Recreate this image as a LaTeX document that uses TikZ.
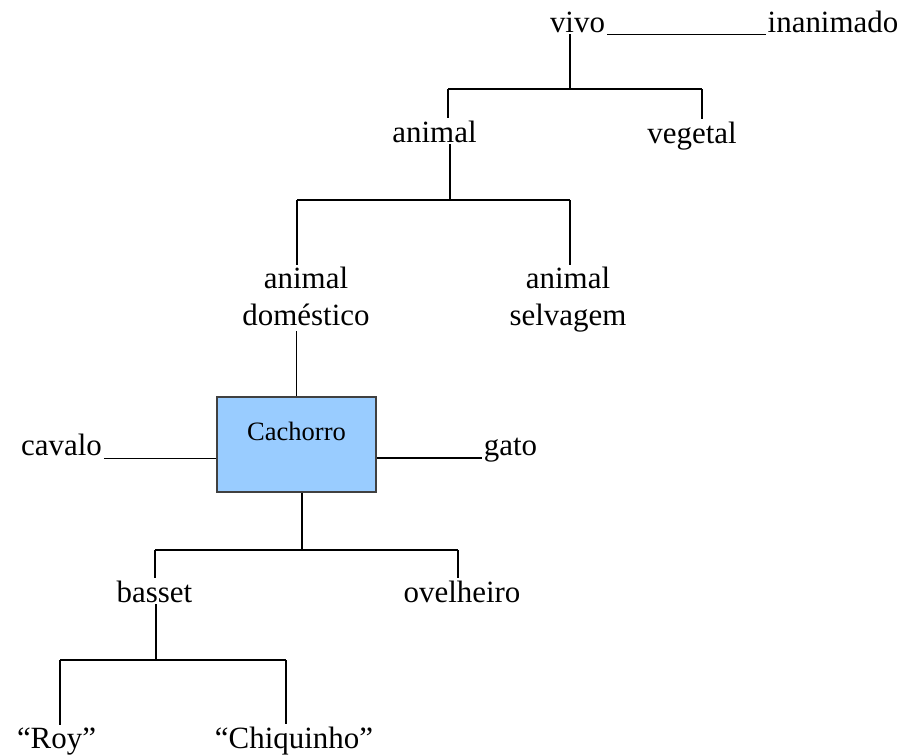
\documentclass[tikz,border=0pt]{standalone}
\usepackage{fontspec}
\setmainfont{Liberation Serif}
\definecolor{boxblue}{HTML}{99CCFF}
\tikzset{
  lbl/.style={inner sep=1pt, anchor=base, align=center,
    font=\fontsize{17.6pt}{21pt}\selectfont},
  dogbox/.style={draw=black!75, fill=boxblue, line width=0.7pt, inner sep=0pt,
    anchor=base, minimum width=3.18cm, text height=0.86cm, text depth=1.04cm,
    font=\fontsize{15.1pt}{18pt}\selectfont},
  liga/.style={line width=1pt}
}
\begin{document}
\begin{tikzpicture}[x=0.02cm, y=-0.02cm]
    \useasboundingbox (0,0) rectangle (909,755);

    \node[lbl] (vivo)    at (577.5,32) {vivo};
    \node[lbl] (inan)    at (833,32)   {inanimado};
    \node[lbl] (animal)  at (434.5,142) {animal};
    \node[lbl] (vegetal) at (692,143)  {vegetal};
    \node[lbl] (dom)     at (306,325)  {animal\\doméstico};
    \node[lbl] (selv)    at (568,325)  {animal\\selvagem};
    \node[dogbox] (dog)  at (296.5,440) {Cachorro};
    \node[lbl] (cavalo)  at (61.5,455) {cavalo};
    \node[lbl] (gato)    at (510.5,455) {gato};
    \node[lbl] (basset)  at (154.5,602) {basset};
    \node[lbl] (ovel)    at (462,602)  {ovelheiro};
    \node[lbl] (roy)     at (56.5,748) {“Roy”};
    \node[lbl] (chiq)    at (294,748)  {“Chiquinho”};

    % pontos das barras
    \coordinate (j1) at (570,89);  \coordinate (j1l) at (448,89);  \coordinate (j1r) at (702,89);
    \coordinate (j2) at (450,200); \coordinate (j2l) at (297,200); \coordinate (j2r) at (570,200);
    \coordinate (j4) at (302,550); \coordinate (j4l) at (155,550); \coordinate (j4r) at (458,550);
    \coordinate (j5) at (156,660); \coordinate (j5l) at (60,660);  \coordinate (j5r) at (286,660);

    \draw[liga] (vivo.south -| j1) -- (j1);
    \draw[liga] (j1l) -- (j1r);
    \draw[liga] (j1l) -- (j1l |- animal.north);
    \draw[liga] (j1r) -- (j1r |- vegetal.north);

    \draw[liga] (animal.south -| j2) -- (j2);
    \draw[liga] (j2l) -- (j2r);
    \draw[liga] (j2l) -- (j2l |- dom.north);
    \draw[liga] (j2r) -- (j2r |- selv.north);

    \draw[liga] ([yshift=-0.08cm]dom.south -| dog.north) -- (dog.north);

    \draw[liga] (dog.south -| j4) -- (j4);
    \draw[liga] (j4l) -- (j4r);
    \draw[liga] (j4l) -- (j4l |- basset.north);
    \draw[liga] (j4r) -- (j4r |- ovel.north);

    \draw[liga] (basset.south -| j5) -- (j5);
    \draw[liga] (j5l) -- (j5r);
    \draw[liga] (j5l) -- (j5l |- roy.north);
    \draw[liga] (j5r) -- (j5r |- chiq.north);

    % linhas de sublinhado
    \draw[liga] ([yshift=-0.05cm]vivo.base east) -- ([yshift=-0.05cm]inan.base west);
    \draw[liga] ([yshift=-0.07cm]cavalo.base east) -- ([yshift=-0.07cm]cavalo.base east -| dog.west);
    \draw[liga] ([yshift=-0.06cm]gato.base west) -- ([yshift=-0.06cm]gato.base west -| dog.east);
\end{tikzpicture}
\end{document}
